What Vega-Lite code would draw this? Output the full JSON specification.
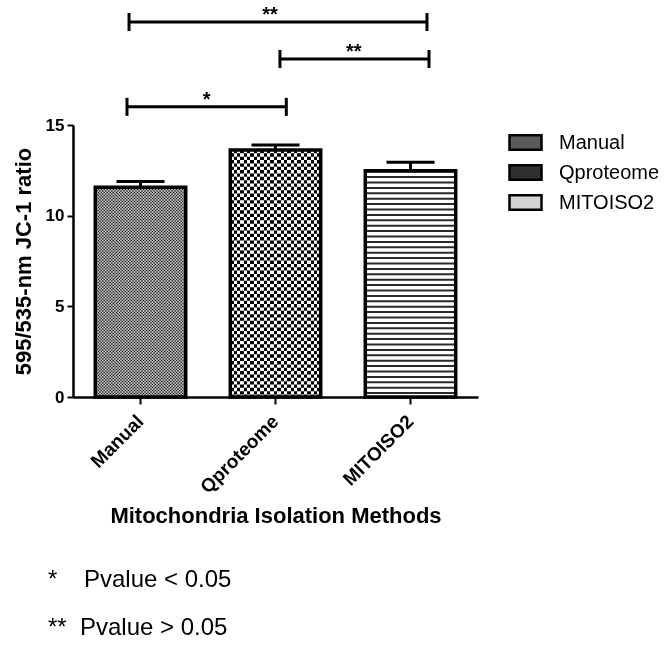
{
  "$schema": "https://vega.github.io/schema/vega-lite/v6.json",
  "width": 405,
  "height": 272,
  "autosize": {"type": "none"},
  "padding": {"left": 73, "top": 125, "right": 190, "bottom": 262},
  "background": "white",
  "config": {
    "font": "Liberation Sans",
    "view": {"stroke": null},
    "axis": {"grid": false, "domainColor": "black", "tickColor": "black", "labelColor": "black", "titleColor": "black"}
  },
  "title": {
    "text": ["*\u00a0\u00a0\u00a0\u00a0Pvalue < 0.05", "**\u00a0\u00a0Pvalue > 0.05"],
    "orient": "bottom",
    "anchor": "start",
    "frame": "group",
    "dx": -25,
    "offset": 41,
    "fontSize": 24,
    "fontWeight": "normal",
    "lineHeight": 48,
    "color": "black",
    "font": "Liberation Sans"
  },
  "datasets": {
    "bars": [
      {"method": "Manual", "mean": 11.57, "upper": 11.88},
      {"method": "Qproteome", "mean": 13.62, "upper": 13.9},
      {"method": "MITOISO2", "mean": 12.48, "upper": 12.95}
    ],
    "brackets": [
      {"from": 0.4, "to": 1.58, "mid": 0.99, "level": 16.0, "label": "*"},
      {"from": 1.533, "to": 2.637, "mid": 2.08, "level": 18.64, "label": "**"},
      {"from": 0.415, "to": 2.622, "mid": 1.46, "level": 20.68, "label": "**"}
    ]
  },
  "resolve": {"scale": {"x": "independent"}},
  "layer": [
    {
      "data": {"name": "bars"},
      "encoding": {
        "x": {
          "field": "method",
          "type": "nominal",
          "scale": {"domain": ["Manual", "Qproteome", "MITOISO2"], "paddingInner": 0.33, "paddingOuter": 0.165},
          "axis": {
            "title": "Mitochondria Isolation Methods",
            "titleFontSize": 22,
            "titleFontWeight": "bold",
            "titlePadding": 9,
            "labelAngle": -45,
            "labelAlign": "right",
            "labelBaseline": "middle",
            "labelFontSize": 19,
            "labelFontWeight": "bold",
            "labelPadding": 14,
            "tickSize": 7,
            "tickWidth": 2,
            "domainWidth": 2.5
          }
        },
        "y": {
          "field": "mean",
          "type": "quantitative",
          "title": "595/535-nm JC-1 ratio",
          "scale": {"domain": [0, 15], "nice": false},
          "axis": {
            "title": "595/535-nm JC-1 ratio",
            "titleFontSize": 22,
            "titleFontWeight": "bold",
            "titlePadding": 10,
            "values": [0, 5, 10, 15],
            "labelFontSize": 17,
            "labelFontWeight": "bold",
            "labelPadding": 3,
            "tickSize": 6,
            "tickWidth": 2,
            "domainWidth": 2.5
          }
        }
      },
      "layer": [
        {
          "mark": {"type": "bar"},
          "encoding": {
            "fill": {
              "field": "method",
              "type": "nominal",
              "scale": {"domain": ["Manual", "Qproteome", "MITOISO2"], "range": ["#5a5a5a", "#303030", "#d4d4d4"]},
              "legend": {
                "title": null,
                "orient": "right",
                "offset": 30,
                "symbolType": "M-1,-0.45H1V0.45H-1Z",
                "symbolSize": 1024,
                "symbolStrokeColor": "black",
                "symbolStrokeWidth": 2.5,
                "labelFontSize": 20,
                "labelColor": "black",
                "labelOffset": 16,
                "rowPadding": 0
              }
            }
          }
        },
        {
          "transform": [{"filter": {"field": "method", "equal": "Manual"}}],
          "mark": {
            "type": "bar",
            "fill": {
              "gradient": "linear", "x1": 0, "y1": 0, "x2": 1, "y2": 0,
              "stops": [
                {"offset": 0, "color": "#000"}, {"offset": 0.0167, "color": "#fff"}, {"offset": 0.0333, "color": "#000"}, {"offset": 0.05, "color": "#fff"},
                {"offset": 0.0667, "color": "#000"}, {"offset": 0.0833, "color": "#fff"}, {"offset": 0.1, "color": "#000"}, {"offset": 0.1167, "color": "#fff"},
                {"offset": 0.1333, "color": "#000"}, {"offset": 0.15, "color": "#fff"}, {"offset": 0.1667, "color": "#000"}, {"offset": 0.1833, "color": "#fff"},
                {"offset": 0.2, "color": "#000"}, {"offset": 0.2167, "color": "#fff"}, {"offset": 0.2333, "color": "#000"}, {"offset": 0.25, "color": "#fff"},
                {"offset": 0.2667, "color": "#000"}, {"offset": 0.2833, "color": "#fff"}, {"offset": 0.3, "color": "#000"}, {"offset": 0.3167, "color": "#fff"},
                {"offset": 0.3333, "color": "#000"}, {"offset": 0.35, "color": "#fff"}, {"offset": 0.3667, "color": "#000"}, {"offset": 0.3833, "color": "#fff"},
                {"offset": 0.4, "color": "#000"}, {"offset": 0.4167, "color": "#fff"}, {"offset": 0.4333, "color": "#000"}, {"offset": 0.45, "color": "#fff"},
                {"offset": 0.4667, "color": "#000"}, {"offset": 0.4833, "color": "#fff"}, {"offset": 0.5, "color": "#000"}, {"offset": 0.5167, "color": "#fff"},
                {"offset": 0.5333, "color": "#000"}, {"offset": 0.55, "color": "#fff"}, {"offset": 0.5667, "color": "#000"}, {"offset": 0.5833, "color": "#fff"},
                {"offset": 0.6, "color": "#000"}, {"offset": 0.6167, "color": "#fff"}, {"offset": 0.6333, "color": "#000"}, {"offset": 0.65, "color": "#fff"},
                {"offset": 0.6667, "color": "#000"}, {"offset": 0.6833, "color": "#fff"}, {"offset": 0.7, "color": "#000"}, {"offset": 0.7167, "color": "#fff"},
                {"offset": 0.7333, "color": "#000"}, {"offset": 0.75, "color": "#fff"}, {"offset": 0.7667, "color": "#000"}, {"offset": 0.7833, "color": "#fff"},
                {"offset": 0.8, "color": "#000"}, {"offset": 0.8167, "color": "#fff"}, {"offset": 0.8333, "color": "#000"}, {"offset": 0.85, "color": "#fff"},
                {"offset": 0.8667, "color": "#000"}, {"offset": 0.8833, "color": "#fff"}, {"offset": 0.9, "color": "#000"}, {"offset": 0.9167, "color": "#fff"},
                {"offset": 0.9333, "color": "#000"}, {"offset": 0.95, "color": "#fff"}, {"offset": 0.9667, "color": "#000"}, {"offset": 0.9833, "color": "#fff"},
                {"offset": 1, "color": "#000"}
              ]
            }
          }
        },
        {
          "transform": [{"filter": {"field": "method", "equal": "Manual"}}],
          "mark": {"type": "rule", "color": "white", "strokeWidth": 90, "strokeDash": [1.5, 1.5], "strokeCap": "butt", "blend": "difference"},
          "encoding": {"y2": {"datum": 0}}
        },
        {
          "transform": [{"filter": {"field": "method", "equal": "Qproteome"}}],
          "mark": {
            "type": "bar",
            "fill": {
              "gradient": "linear", "x1": 0, "y1": 0, "x2": 1, "y2": 0,
              "stops": [
                {"offset": 0, "color": "#000"}, {"offset": 0.037, "color": "#000"},
                {"offset": 0.037, "color": "#fff"}, {"offset": 0.0741, "color": "#fff"},
                {"offset": 0.0741, "color": "#000"}, {"offset": 0.1111, "color": "#000"},
                {"offset": 0.1111, "color": "#fff"}, {"offset": 0.1481, "color": "#fff"},
                {"offset": 0.1481, "color": "#000"}, {"offset": 0.1852, "color": "#000"},
                {"offset": 0.1852, "color": "#fff"}, {"offset": 0.2222, "color": "#fff"},
                {"offset": 0.2222, "color": "#000"}, {"offset": 0.2593, "color": "#000"},
                {"offset": 0.2593, "color": "#fff"}, {"offset": 0.2963, "color": "#fff"},
                {"offset": 0.2963, "color": "#000"}, {"offset": 0.3333, "color": "#000"},
                {"offset": 0.3333, "color": "#fff"}, {"offset": 0.3704, "color": "#fff"},
                {"offset": 0.3704, "color": "#000"}, {"offset": 0.4074, "color": "#000"},
                {"offset": 0.4074, "color": "#fff"}, {"offset": 0.4444, "color": "#fff"},
                {"offset": 0.4444, "color": "#000"}, {"offset": 0.4815, "color": "#000"},
                {"offset": 0.4815, "color": "#fff"}, {"offset": 0.5185, "color": "#fff"},
                {"offset": 0.5185, "color": "#000"}, {"offset": 0.5556, "color": "#000"},
                {"offset": 0.5556, "color": "#fff"}, {"offset": 0.5926, "color": "#fff"},
                {"offset": 0.5926, "color": "#000"}, {"offset": 0.6296, "color": "#000"},
                {"offset": 0.6296, "color": "#fff"}, {"offset": 0.6667, "color": "#fff"},
                {"offset": 0.6667, "color": "#000"}, {"offset": 0.7037, "color": "#000"},
                {"offset": 0.7037, "color": "#fff"}, {"offset": 0.7407, "color": "#fff"},
                {"offset": 0.7407, "color": "#000"}, {"offset": 0.7778, "color": "#000"},
                {"offset": 0.7778, "color": "#fff"}, {"offset": 0.8148, "color": "#fff"},
                {"offset": 0.8148, "color": "#000"}, {"offset": 0.8519, "color": "#000"},
                {"offset": 0.8519, "color": "#fff"}, {"offset": 0.8889, "color": "#fff"},
                {"offset": 0.8889, "color": "#000"}, {"offset": 0.9259, "color": "#000"},
                {"offset": 0.9259, "color": "#fff"}, {"offset": 0.963, "color": "#fff"},
                {"offset": 0.963, "color": "#000"}, {"offset": 1, "color": "#000"}
              ]
            }
          }
        },
        {
          "transform": [{"filter": {"field": "method", "equal": "Qproteome"}}],
          "mark": {"type": "rule", "color": "white", "strokeWidth": 90, "strokeDash": [3.35, 3.35], "strokeCap": "butt", "blend": "difference"},
          "encoding": {"y2": {"datum": 0}}
        },
        {
          "transform": [{"filter": {"field": "method", "equal": "MITOISO2"}}],
          "mark": {"type": "bar", "fill": "white"}
        },
        {
          "transform": [{"filter": {"field": "method", "equal": "MITOISO2"}}],
          "mark": {"type": "rule", "color": "#2a2a2a", "strokeWidth": 90, "strokeDash": [2, 3.4], "strokeCap": "butt"},
          "encoding": {"y2": {"datum": 0}}
        },
        {
          "mark": {"type": "bar", "fill": "white", "fillOpacity": 0, "stroke": "black", "strokeWidth": 3.5}
        },
        {
          "mark": {"type": "rule", "color": "black", "strokeWidth": 3},
          "encoding": {"y2": {"field": "upper"}}
        },
        {
          "mark": {"type": "tick", "color": "black", "opacity": 1, "thickness": 3, "size": 48, "orient": "horizontal"},
          "encoding": {"y": {"field": "upper", "type": "quantitative", "title": "595/535-nm JC-1 ratio"}}
        }
      ]
    },
    {
      "data": {"name": "brackets"},
      "encoding": {
        "x": {"field": "from", "type": "quantitative", "scale": {"domain": [0, 3], "nice": false, "zero": false}, "axis": null},
        "y": {"field": "level", "type": "quantitative", "title": "595/535-nm JC-1 ratio", "scale": {"domain": [0, 15], "nice": false}}
      },
      "layer": [
        {
          "mark": {"type": "rule", "color": "black", "strokeWidth": 3, "clip": false},
          "encoding": {"x2": {"field": "to"}}
        },
        {
          "mark": {"type": "tick", "orient": "vertical", "color": "black", "opacity": 1, "thickness": 3, "size": 18, "clip": false}
        },
        {
          "mark": {"type": "tick", "orient": "vertical", "color": "black", "opacity": 1, "thickness": 3, "size": 18, "clip": false},
          "encoding": {"x": {"field": "to", "type": "quantitative", "axis": null}}
        },
        {
          "mark": {"type": "text", "fontSize": 20, "fontWeight": "bold", "baseline": "alphabetic", "dy": -1, "color": "black", "clip": false},
          "encoding": {
            "x": {"field": "mid", "type": "quantitative", "axis": null},
            "text": {"field": "label"}
          }
        }
      ]
    }
  ]
}
